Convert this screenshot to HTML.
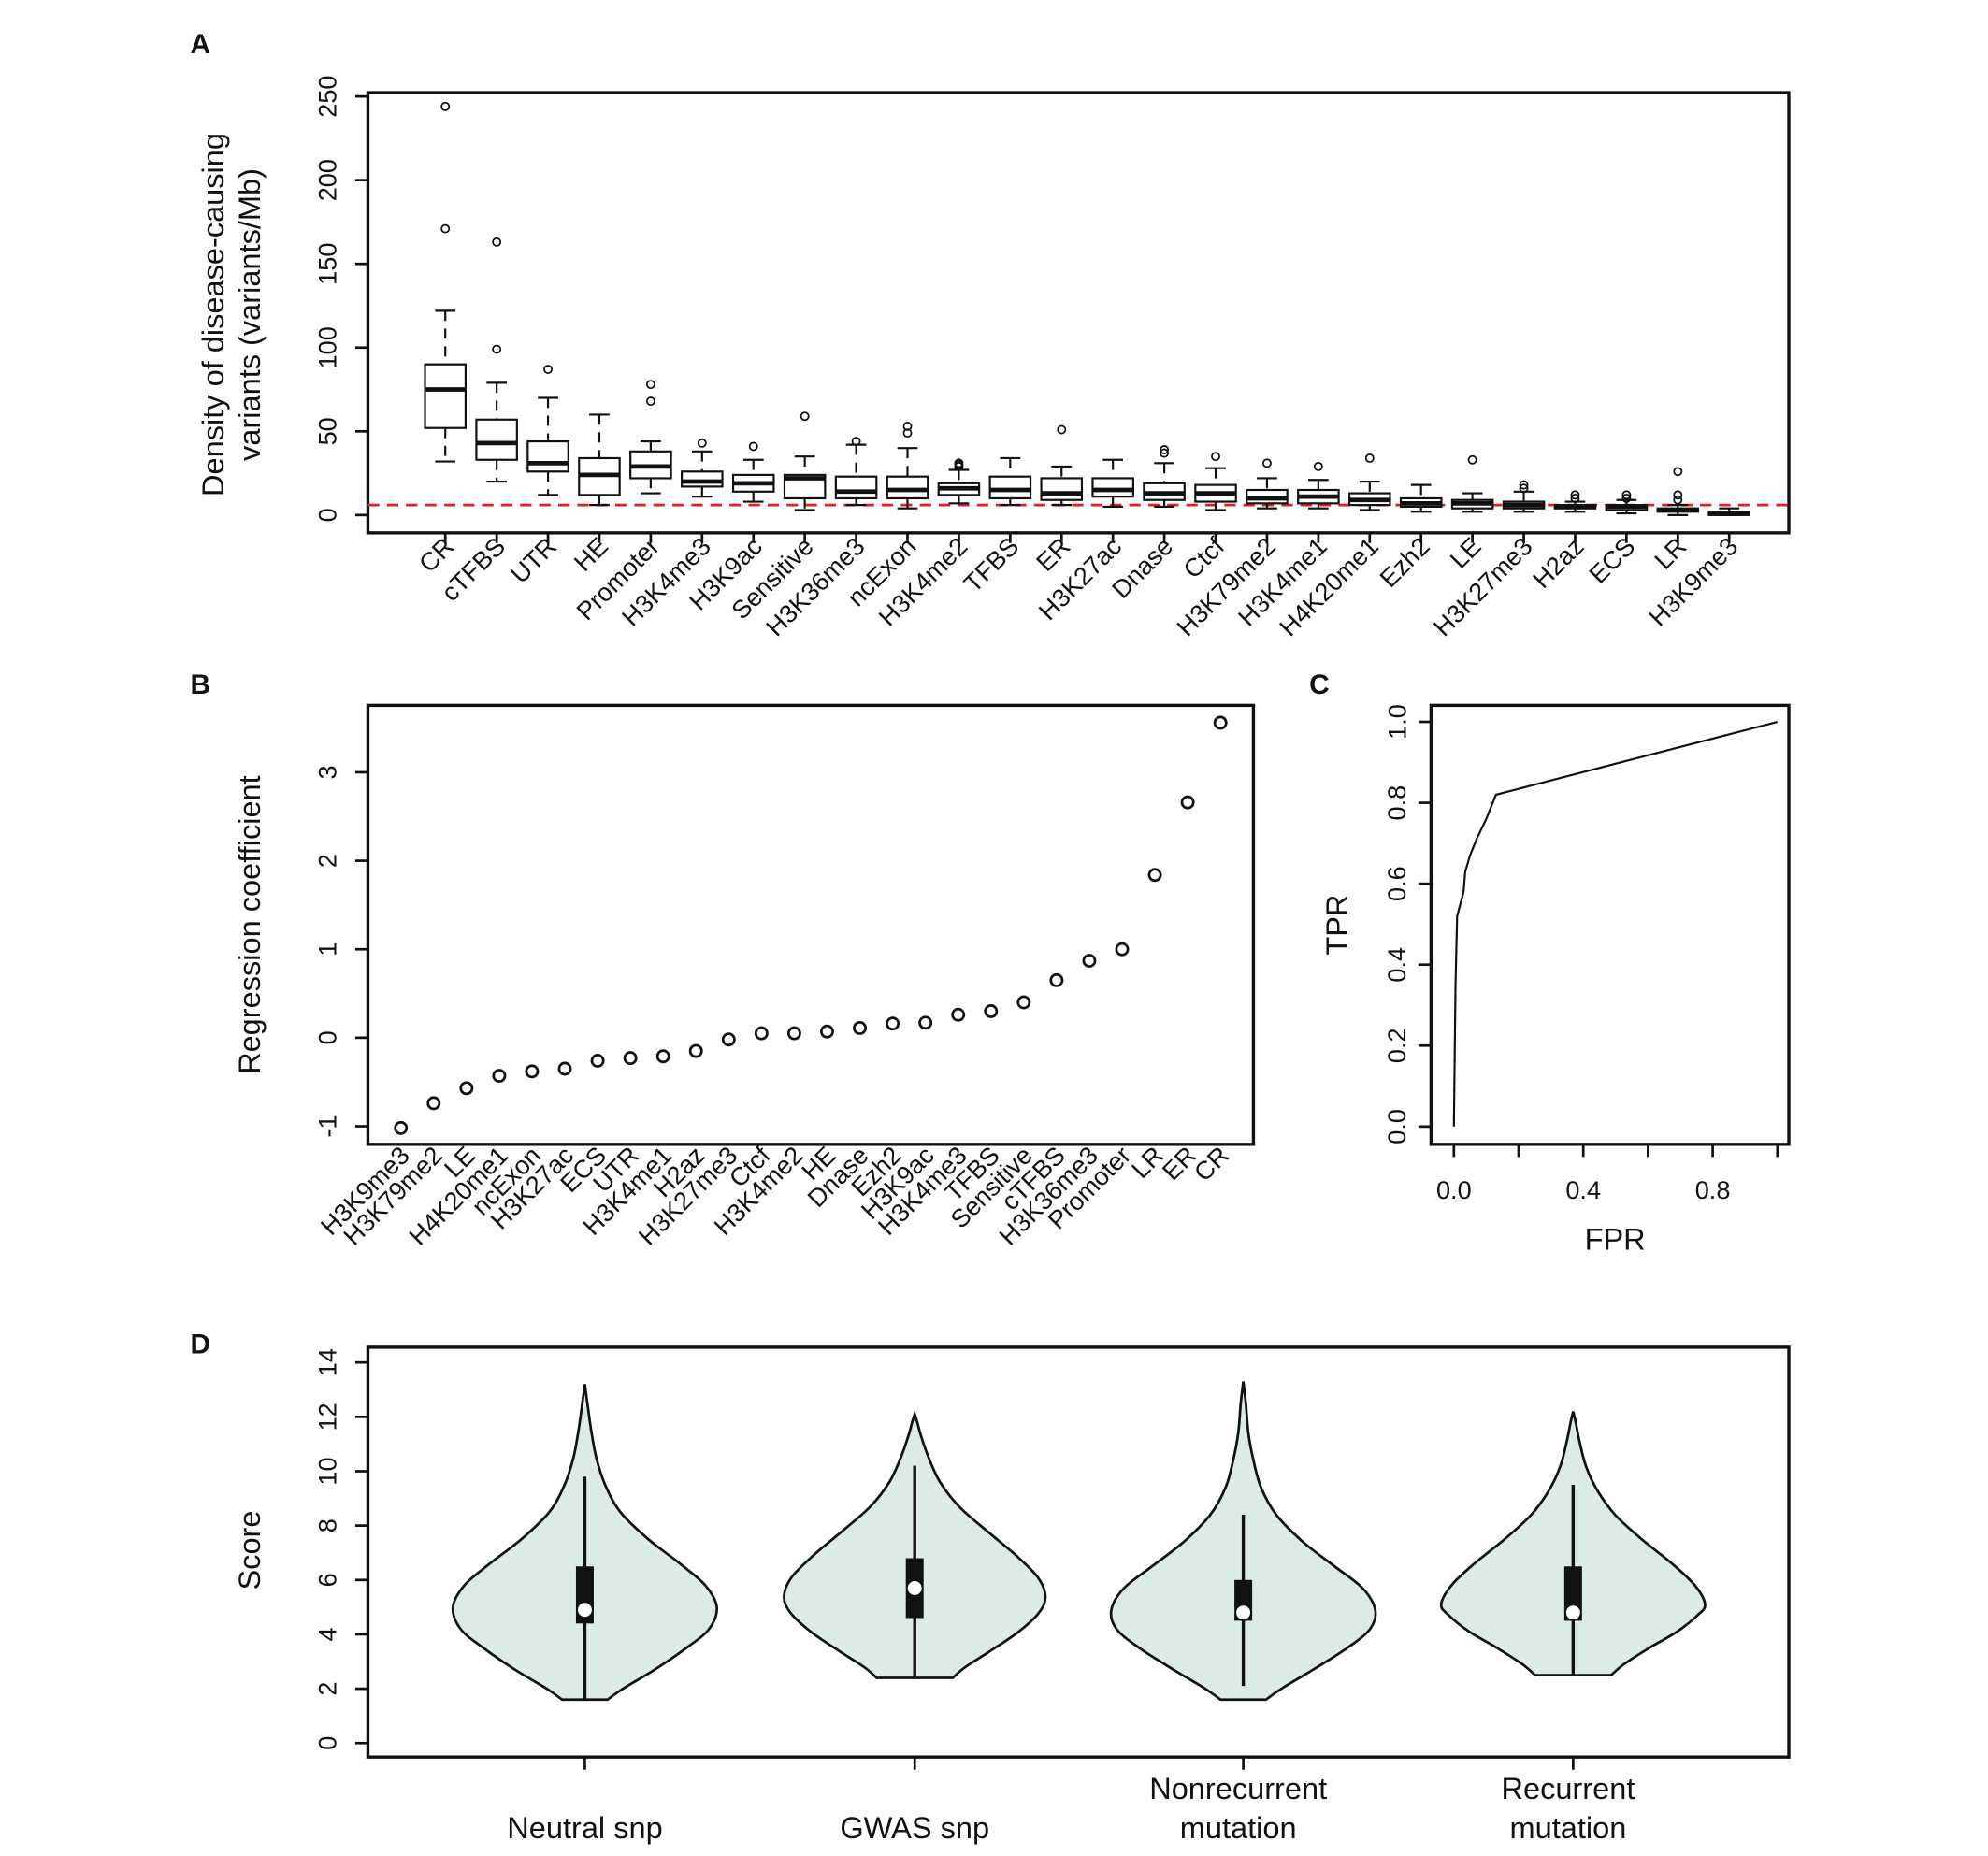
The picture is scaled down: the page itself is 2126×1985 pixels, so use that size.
<!DOCTYPE html>
<html><head><meta charset="utf-8"><style>
html,body{margin:0;padding:0;background:#fff}
svg{display:block}
text{font-family:"Liberation Sans",sans-serif;fill:#111}
</style></head><body>
<svg id="fig" width="2126" height="1985" viewBox="0 0 1567 1463" preserveAspectRatio="none" xmlns="http://www.w3.org/2000/svg"></svg>
<script>
// ---------- Panel A data ----------
const aCats=["CR","cTFBS","UTR","HE","Promoter","H3K4me3","H3K9ac","Sensitive","H3K36me3","ncExon","H3K4me2","TFBS","ER","H3K27ac","Dnase","Ctcf","H3K79me2","H3K4me1","H4K20me1","Ezh2","LE","H3K27me3","H2az","ECS","LR","H3K9me3"];
const aMed=[75,43,31,24,29,20,19,22,14,15,16,15,13,15,13,13,10,11,9,7,7,6,5,5,3,1];
const aQ1=[52,33,26,12,22,17,14,10,10,10,12,10,9,11,9,8,7,7,6,5,4,4,4,3,2,0];
const aQ3=[90,57,44,34,38,26,24,24,23,23,19,23,22,22,19,18,15,15,13,10,9,8,6,6,4,2];
const aLo=[32,20,12,6,13,11,8,3,6,4,7,6,6,5,5,3,4,4,3,2,2,2,2,1,0,0];
const aHi=[122,79,70,60,44,38,33,35,42,40,27,34,29,33,31,28,22,21,20,18,13,14,8,9,6,4];
const aOut=[[171,244],[99,163],[87],[],[68,78],[43],[41],[59],[44],[49,53],[29,30,31],[],[51],[],[37,39],[35],[31],[29],[34],[],[33],[16,18],[10,12],[10,12],[9,12,26],[]];
const aTicks=[0,50,100,150,200,250];
const aRef=6;
// ---------- Panel B data ----------
const bCats=["H3K9me3","H3K79me2","LE","H4K20me1","ncExon","H3K27ac","ECS","UTR","H3K4me1","H2az","H3K27me3","Ctcf","H3K4me2","HE","Dnase","Ezh2","H3K9ac","H3K4me3","TFBS","Sensitive","cTFBS","H3K36me3","Promoter","LR","ER","CR"];
const bVals=[-1.02,-0.74,-0.57,-0.43,-0.38,-0.35,-0.26,-0.23,-0.21,-0.15,-0.02,0.05,0.05,0.07,0.11,0.16,0.17,0.26,0.30,0.40,0.65,0.87,1.00,1.84,2.66,3.56];
const bTicks=[-1,0,1,2,3];
// ---------- Panel C data ----------
const cFPR=[0,0.005,0.01,0.02,0.03,0.035,0.05,0.07,0.1,0.13,1];
const cTPR=[0,0.35,0.52,0.55,0.58,0.63,0.67,0.71,0.76,0.82,1];
const cXTicks=[0,0.2,0.4,0.6,0.8,1.0];
const cXLabels=["0.0","","0.4","","0.8",""];
const cYTicks=[0,0.2,0.4,0.6,0.8,1.0];
const cYLabels=["0.0","0.2","0.4","0.6","0.8","1.0"];
// ---------- Panel D data ----------
const dCats=[["Neutral snp"],["GWAS snp"],["Nonrecurrent","mutation"],["Recurrent","mutation"]];
const dScoreLevels=[
 [1.6,2,2.7,3.5,4.2,5,5.8,6.6,7.5,8.5,9.5,10.5,11.5,12.5,13.2],
 [2.4,2.8,3.4,4.1,4.8,5.4,6.1,6.9,7.8,8.7,9.6,10.5,11.3,11.8,12.1],
 [1.6,2,2.7,3.5,4.2,4.9,5.7,6.5,7.4,8.4,9.4,10.4,11.4,12.5,13.3],
 [2.5,2.9,3.5,4.1,4.7,5.1,5.8,6.6,7.5,8.4,9.3,10.2,11.1,11.8,12.2]];
const dDensity=[
 [18,30,55,80,98,104,95,75,50,28,16,9,5,2,0],
 [30,40,60,82,98,103,97,80,57,35,20,11,5,2,0],
 [18,30,55,82,100,104,94,72,47,26,14,8,4,2,0],
 [30,40,60,82,98,104,96,78,54,33,19,10,5,2,0]];
const dQ1=[4.4,4.6,4.5,4.5], dQ3=[6.5,6.8,6.0,6.5], dWLo=[1.6,2.4,2.1,2.5], dWHi=[9.8,10.2,8.4,9.5], dMed=[4.9,5.7,4.8,4.8];
const dTicks=[0,2,4,6,8,10,12,14];

const NS="http://www.w3.org/2000/svg";
const svg=document.getElementById('fig');
function mk(tag,attrs,parent,txt){const e=document.createElementNS(NS,tag);for(const k in attrs)e.setAttribute(k,attrs[k]);if(txt!==undefined)e.textContent=txt;(parent||svg).appendChild(e);return e;}
function grp(name){const g=mk('g',{});return g;}
function label(txt,x,y,size,opts,name){const o=Object.assign({x:x,y:y,'font-size':size},opts||{});const t=mk('text',o,null,txt);return t;}
const K="#111";

[["A",150,42],["B",150,547],["C",1032,547],["D",150,1067]].forEach(p=>{const t=mk('text',{x:p[1],y:p[2],'font-size':22,'font-weight':'bold','font-family':'"Liberation Serif",serif'},null,p[0]);});

// ---------- Panel A ----------
(function(){
 const g=grp('panel-a-boxplot');
 const L=290,R=1410,T=73,B=420;
 const y=v=>406-v*1.32;
 const x=i=>351+i*(1363-351)/(aCats.length-1);
 const fr=mk('rect',{x:L,y:T,width:R-L,height:B-T,fill:'none',stroke:K,'stroke-width':2.5},g);
 mk('line',{x1:L,x2:R,y1:y(aRef),y2:y(aRef),stroke:'#e02020','stroke-width':2,'stroke-dasharray':'9,6'},g);
 aTicks.forEach(v=>{mk('line',{x1:L-10,x2:L,y1:y(v),y2:y(v),stroke:K,'stroke-width':2},g);
  const t=label(String(v),265,y(v),20,{'text-anchor':'middle',transform:`rotate(-90 265 ${y(v)})`},'y-tick-label');g.appendChild(t);});
 aCats.forEach((c,i)=>{
  const cx=x(i),hw=16;
  const bg=mk('g',{},g);
  mk('line',{x1:cx,x2:cx,y1:y(aHi[i]),y2:y(aQ3[i]),stroke:K,'stroke-width':1.6,'stroke-dasharray':'8,6'},bg);
  mk('line',{x1:cx,x2:cx,y1:y(aQ1[i]),y2:y(aLo[i]),stroke:K,'stroke-width':1.6,'stroke-dasharray':'8,6'},bg);
  mk('line',{x1:cx-8,x2:cx+8,y1:y(aHi[i]),y2:y(aHi[i]),stroke:K,'stroke-width':1.6},bg);
  mk('line',{x1:cx-8,x2:cx+8,y1:y(aLo[i]),y2:y(aLo[i]),stroke:K,'stroke-width':1.6},bg);
  mk('rect',{x:cx-hw,y:y(aQ3[i]),width:2*hw,height:Math.max(1,y(aQ1[i])-y(aQ3[i])),fill:'#fff',stroke:K,'stroke-width':1.6},bg);
  mk('line',{x1:cx-hw,x2:cx+hw,y1:y(aMed[i]),y2:y(aMed[i]),stroke:K,'stroke-width':3.5},bg);
  aOut[i].forEach(o=>mk('circle',{cx:cx,cy:y(o),r:3,fill:'none',stroke:K,'stroke-width':1.3},bg));
  mk('line',{x1:cx,x2:cx,y1:B,y2:B+8,stroke:K,'stroke-width':2},g);
  const tx=cx+8,ty=432;
  const t=label(c,tx,ty,20,{'text-anchor':'end',transform:`rotate(-45 ${tx} ${ty})`},'x-tick-label');g.appendChild(t);
 });
 const t1=label('Density of disease-causing',176,248,24,{'text-anchor':'middle',transform:'rotate(-90 176 248)'},'y-axis-title');g.appendChild(t1);
 const t2=label('variants (variants/Mb)',205,248,24,{'text-anchor':'middle',transform:'rotate(-90 205 248)'},'y-axis-title-line2');g.appendChild(t2);
})();

// ---------- Panel B ----------
(function(){
 const g=grp('panel-b-regression');
 const L=290,R=988,T=556,B=902;
 const y=v=>818-v*69.75;
 const x=i=>316+i*(962-316)/(bCats.length-1);
 mk('rect',{x:L,y:T,width:R-L,height:B-T,fill:'none',stroke:K,'stroke-width':2.5},g);
 bTicks.forEach(v=>{mk('line',{x1:L-10,x2:L,y1:y(v),y2:y(v),stroke:K,'stroke-width':2},g);
  const t=label(String(v),265,y(v),20,{'text-anchor':'middle',transform:`rotate(-90 265 ${y(v)})`},'y-tick-label');g.appendChild(t);});
 bCats.forEach((c,i)=>{
  const p=mk('circle',{cx:x(i),cy:y(bVals[i]),r:4.5,fill:'none',stroke:K,'stroke-width':2},g);
  
  const tx=x(i)+8,ty=912;
  const t=label(c,tx,ty,20,{'text-anchor':'end',transform:`rotate(-45 ${tx} ${ty})`},'x-tick-label');g.appendChild(t);
 });
 const t=label('Regression coefficient',205,729,24,{'text-anchor':'middle',transform:'rotate(-90 205 729)'},'y-axis-title');g.appendChild(t);
})();

// ---------- Panel C ----------
(function(){
 const g=grp('panel-c-roc');
 const L=1128,R=1410,T=556,B=902;
 const x=v=>1146+v*255, y=v=>888-v*319;
 mk('rect',{x:L,y:T,width:R-L,height:B-T,fill:'none',stroke:K,'stroke-width':2.5},g);
 cXTicks.forEach((v,i)=>{mk('line',{x1:x(v),x2:x(v),y1:B,y2:B+10,stroke:K,'stroke-width':2},g);
  if(cXLabels[i]){const t=label(cXLabels[i],x(v),945,20,{'text-anchor':'middle'},'x-tick-label');g.appendChild(t);}});
 cYTicks.forEach((v,i)=>{mk('line',{x1:L-10,x2:L,y1:y(v),y2:y(v),stroke:K,'stroke-width':2},g);
  const t=label(cYLabels[i],1108,y(v),20,{'text-anchor':'middle',transform:`rotate(-90 1108 ${y(v)})`},'y-tick-label');g.appendChild(t);});
 const pts=cFPR.map((f,i)=>x(f)+','+y(cTPR[i])).join(' ');
 const pl=mk('polyline',{points:pts,fill:'none',stroke:K,'stroke-width':1.6},g);
 g.appendChild(label('FPR',1273,985,24,{'text-anchor':'middle'},'x-axis-title'));
 g.appendChild(label('TPR',1062,729,24,{'text-anchor':'middle',transform:'rotate(-90 1062 729)'},'y-axis-title'));
})();

// ---------- Panel D ----------
(function(){
 const g=grp('panel-d-violin');
 const L=290,R=1410,T=1062,B=1385;
 const y=v=>1374-v*21.43;
 const xc=[461,721,980,1240];
 mk('rect',{x:L,y:T,width:R-L,height:B-T,fill:'none',stroke:K,'stroke-width':2.5},g);
 dTicks.forEach(v=>{mk('line',{x1:L-10,x2:L,y1:y(v),y2:y(v),stroke:K,'stroke-width':2},g);
  const t=label(String(v),265,y(v),20,{'text-anchor':'middle',transform:`rotate(-90 265 ${y(v)})`},'y-tick-label');g.appendChild(t);});
 function smooth(P){let d='M'+P[0][0]+','+P[0][1];for(let i=0;i<P.length-1;i++){const p0=P[Math.max(0,i-1)],p1=P[i],p2=P[i+1],p3=P[Math.min(P.length-1,i+2)];
  const c1=[p1[0]+(p2[0]-p0[0])/6,p1[1]+(p2[1]-p0[1])/6],c2=[p2[0]-(p3[0]-p1[0])/6,p2[1]-(p3[1]-p1[1])/6];d+=` C${c1[0]},${c1[1]} ${c2[0]},${c2[1]} ${p2[0]},${p2[1]}`;}return d;}
 dCats.forEach((c,i)=>{
  const cx=xc[i];
  const vg=mk('g',{},g);
  const right=dScoreLevels[i].map((s,j)=>[cx+dDensity[i][j],y(s)]);
  const left=dScoreLevels[i].map((s,j)=>[cx-dDensity[i][j],y(s)]).reverse();
  const d=smooth(right)+' '+smooth(left).replace('M','L')+' Z';
  mk('path',{d:d,fill:'#dcebe8',stroke:K,'stroke-width':2},vg);
  mk('line',{x1:cx,x2:cx,y1:y(dWLo[i]),y2:y(dWHi[i]),stroke:K,'stroke-width':2.5},vg);
  mk('rect',{x:cx-7,y:y(dQ3[i]),width:14,height:y(dQ1[i])-y(dQ3[i]),fill:K},vg);
  mk('circle',{cx:cx,cy:y(dMed[i]),r:5.5,fill:'#fff'},vg);
  mk('line',{x1:cx,x2:cx,y1:B,y2:B+10,stroke:K,'stroke-width':2},g);
  if(c.length===1){g.appendChild(label(c[0],cx,1449,24,{'text-anchor':'middle'},'x-tick-label'));}
  else{g.appendChild(label(c[0],cx-4,1418,24,{'text-anchor':'middle'},'x-tick-label'));g.appendChild(label(c[1],cx-4,1449,24,{'text-anchor':'middle'},'x-tick-label-line2'));}
 });
 g.appendChild(label('Score',205,1222,24,{'text-anchor':'middle',transform:'rotate(-90 205 1222)'},'y-axis-title'));
})();
</script>
</body></html>
